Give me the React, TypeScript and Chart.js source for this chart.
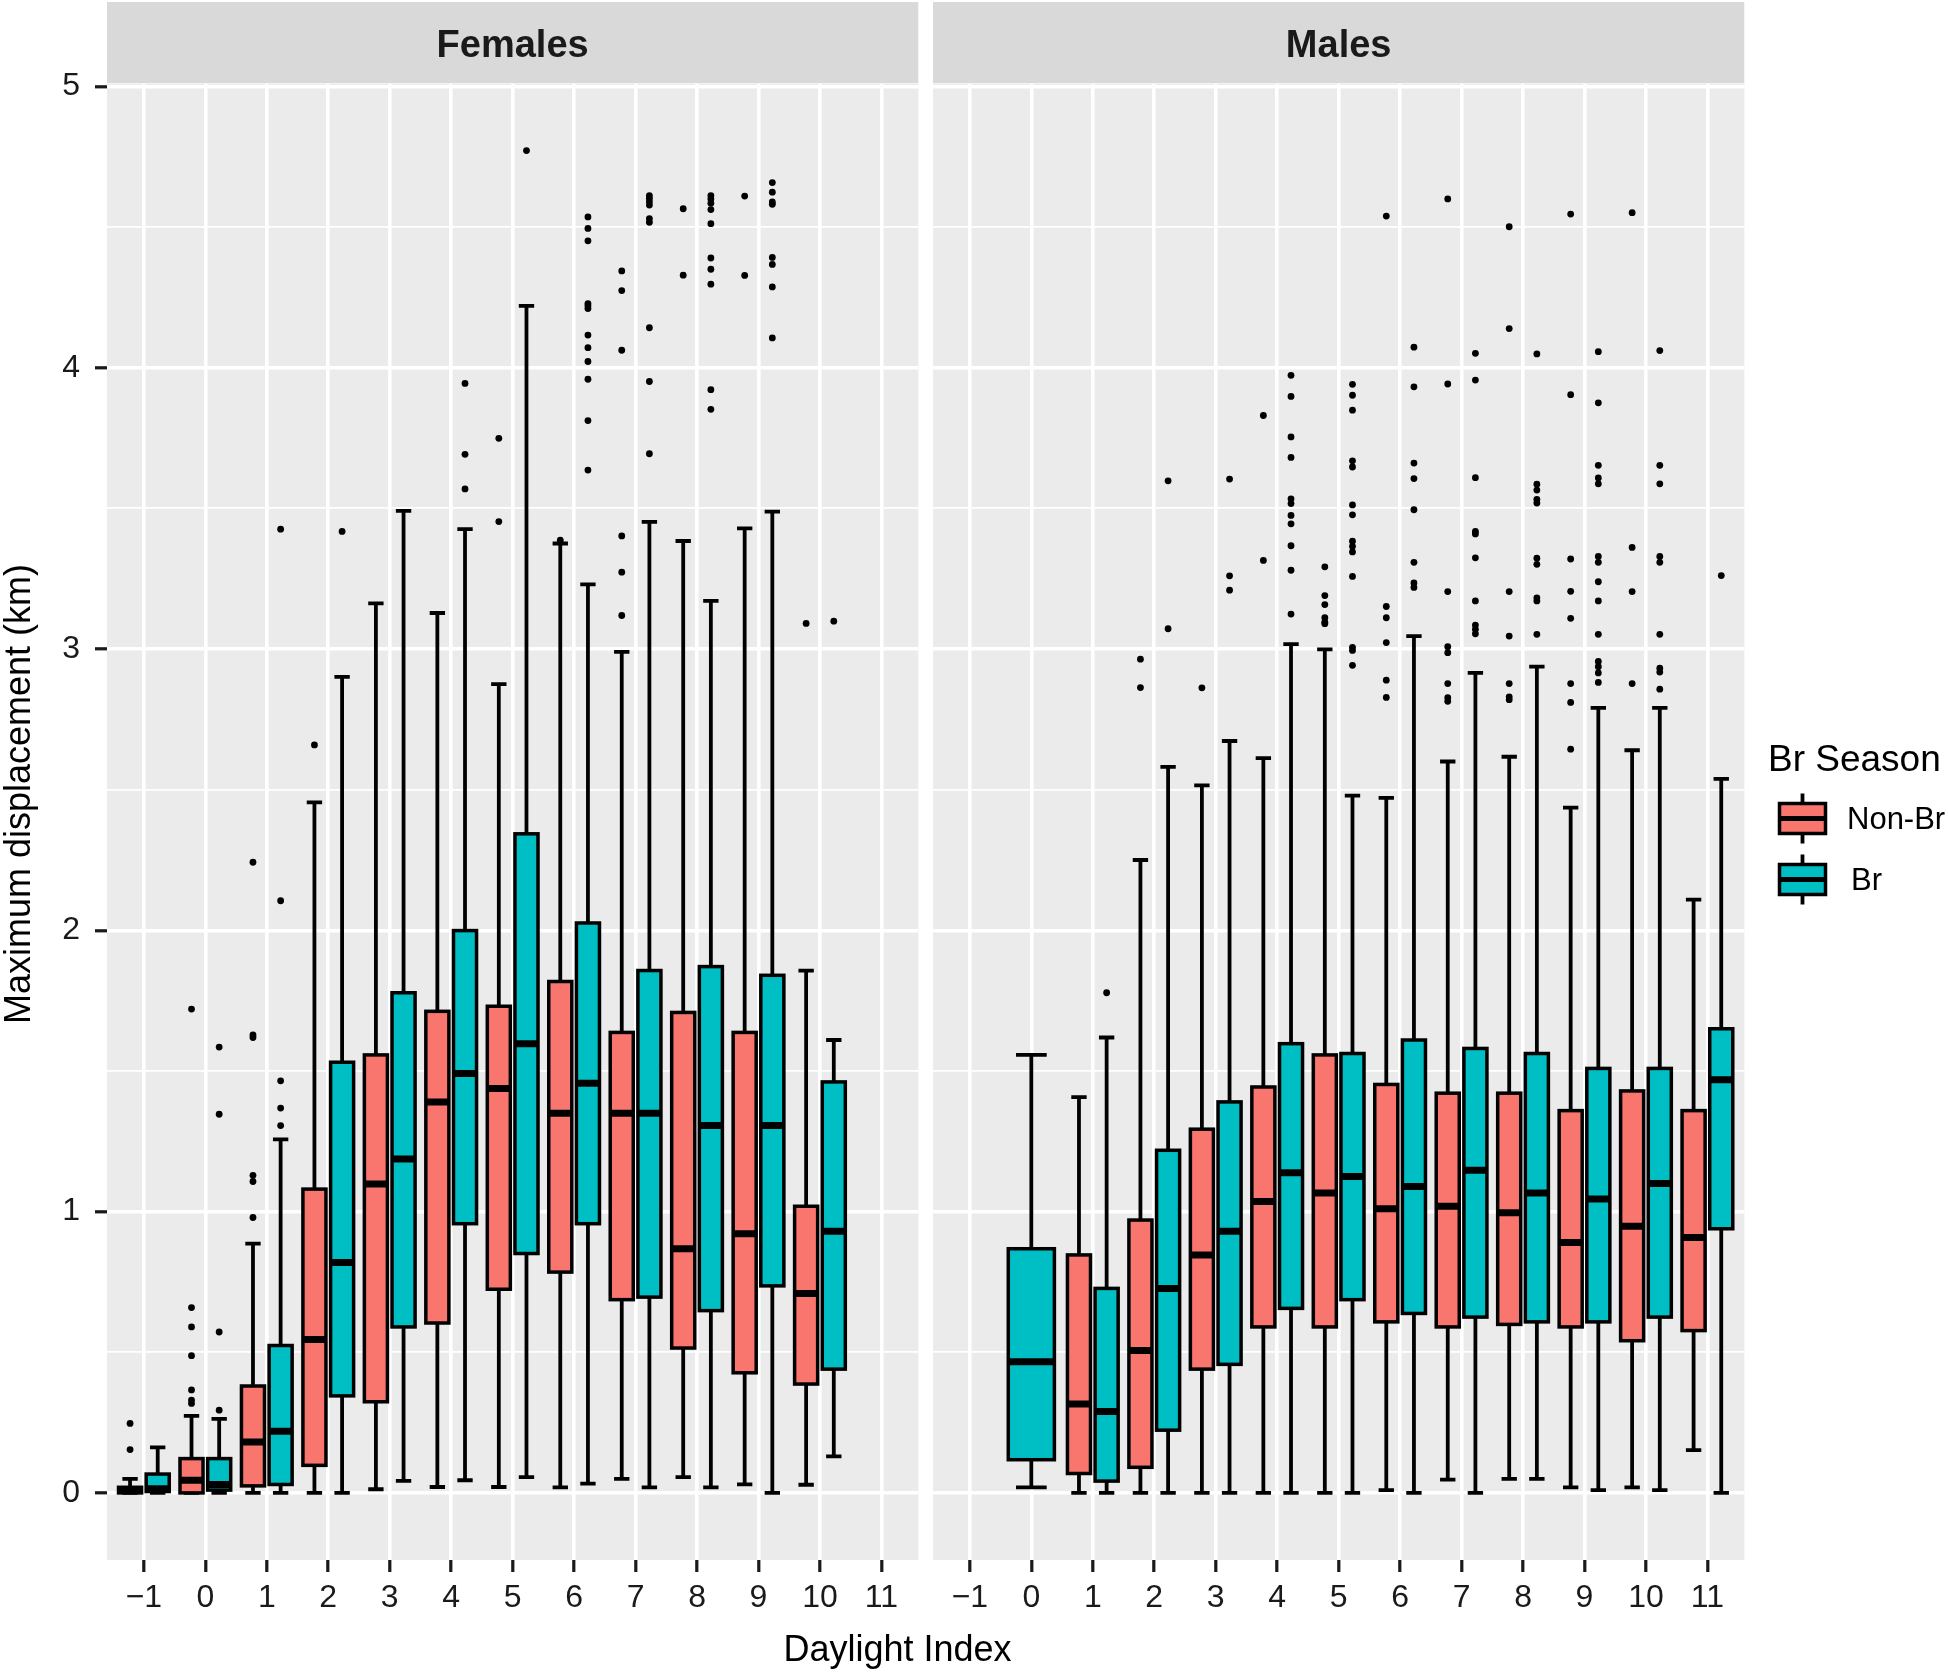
import React, { useEffect, useRef } from 'react';
import { Chart, registerables } from 'chart.js';

Chart.register(...registerables);

const FONT = "'Liberation Sans', Arial, Helvetica, sans-serif";

// ---------- labels / ticks ----------
const panelTitles = ['Females', 'Males'];
const seasonLabels = ['Non-Br', 'Br'];
const seasonColors = ['#F8766D', '#00BFC4'];
const legendTitle = 'Br Season';
const xAxisTitle = 'Daylight Index';
const yAxisTitle = 'Maximum displacement (km)';
const xTickValues = [-1, 0, 1, 2, 3, 4, 5, 6, 7, 8, 9, 10, 11];
const yTickValues = [0, 0.5, 1, 1.5, 2, 2.5, 3, 3.5, 4, 4.5, 5];

// ---------- Females, Non-Br ----------
const femNonBrCats = [-1, 0, 1, 2, 3, 4, 5, 6, 7, 8, 9, 10];
const femNonBrLo = [0, 0, 0, 0, 0.013, 0.021, 0.021, 0.02, 0.05, 0.056, 0.03, 0.029];
const femNonBrQ1 = [0, 0, 0.025, 0.098, 0.324, 0.604, 0.724, 0.785, 0.687, 0.515, 0.427, 0.387];
const femNonBrMed = [0.01, 0.045, 0.181, 0.545, 1.098, 1.39, 1.438, 1.35, 1.35, 0.868, 0.921, 0.709];
const femNonBrQ3 = [0.02, 0.122, 0.38, 1.08, 1.557, 1.712, 1.73, 1.818, 1.637, 1.708, 1.637, 1.019];
const femNonBrHi = [0.05, 0.274, 0.886, 2.455, 3.162, 3.128, 2.875, 3.375, 2.99, 3.384, 3.429, 1.857];
const femNonBrOut = [
  [0.154, 0.247],
  [0.318, 0.33, 0.366, 0.488, 0.59, 0.659, 1.72],
  [0.979, 1.107, 1.129, 1.619, 1.628, 2.242],
  [2.659],
  [],
  [],
  [3.453, 3.749],
  [3.387],
  [3.119, 3.273, 3.402, 4.062, 4.274, 4.344],
  [4.329, 4.565],
  [4.328, 4.61],
  [3.091],
];

// ---------- Females, Br ----------
const femBrCats = [-1, 0, 1, 2, 3, 4, 5, 6, 7, 8, 9, 10];
const femBrLo = [0, 0, 0, 0, 0.043, 0.045, 0.056, 0.033, 0.02, 0.02, 0, 0.13];
const femBrQ1 = [0.005, 0.01, 0.03, 0.345, 0.59, 0.957, 0.851, 0.957, 0.696, 0.648, 0.736, 0.44];
const femBrMed = [0.015, 0.03, 0.219, 0.819, 1.187, 1.491, 1.597, 1.456, 1.35, 1.306, 1.306, 0.93];
const femBrQ3 = [0.067, 0.122, 0.524, 1.531, 1.778, 1.999, 2.343, 2.026, 1.857, 1.871, 1.84, 1.461];
const femBrHi = [0.162, 0.263, 1.257, 2.901, 3.491, 3.426, 4.22, 3.23, 3.452, 3.171, 3.488, 1.61];
const femBrOut = [
  [],
  [0.294, 0.572, 1.346, 1.585],
  [1.306, 1.368, 1.465, 2.105, 3.426],
  [3.418],
  [],
  [3.569, 3.692, 3.944],
  [4.772],
  [3.636, 3.812, 3.959, 4.022, 4.071, 4.116, 4.21, 4.22, 4.228, 4.451, 4.495, 4.536],
  [3.694, 3.951, 4.142, 4.517, 4.53, 4.578, 4.59, 4.602, 4.612],
  [3.852, 3.922, 4.297, 4.35, 4.39, 4.512, 4.562, 4.585, 4.6, 4.612],
  [4.106, 4.287, 4.367, 4.392, 4.581, 4.589, 4.624, 4.658],
  [3.099],
];

// ---------- Males, Non-Br ----------
const maleNonBrCats = [1, 2, 3, 4, 5, 6, 7, 8, 9, 10, 11];
const maleNonBrLo = [0, 0, 0, 0, 0, 0.01, 0.047, 0.05, 0.02, 0.02, 0.152];
const maleNonBrQ1 = [0.069, 0.091, 0.44, 0.59, 0.59, 0.608, 0.59, 0.599, 0.59, 0.541, 0.577];
const maleNonBrMed = [0.316, 0.506, 0.846, 1.036, 1.066, 1.01, 1.019, 0.996, 0.89, 0.948, 0.908];
const maleNonBrQ3 = [0.846, 0.97, 1.293, 1.443, 1.557, 1.452, 1.421, 1.421, 1.359, 1.429, 1.359];
const maleNonBrHi = [1.407, 2.25, 2.515, 2.612, 2.999, 2.471, 2.6, 2.617, 2.436, 2.64, 2.109];
const maleNonBrOut = [
  [],
  [2.863, 2.964],
  [2.862],
  [3.315, 3.83],
  [3.09, 3.095, 3.111, 3.158, 3.19, 3.292],
  [2.828, 2.889, 3.023, 3.111, 3.151, 4.539],
  [2.814, 2.827, 2.877, 2.987, 3.008, 3.204, 3.942, 4.6],
  [2.82, 2.83, 2.877, 3.046, 3.204, 4.139, 4.501],
  [2.644, 2.81, 2.877, 3.109, 3.205, 3.32, 3.904, 4.546],
  [2.877, 3.204, 3.361, 4.551],
  [],
];

// ---------- Males, Br ----------
const maleBrCats = [0, 1, 2, 3, 4, 5, 6, 7, 8, 9, 10, 11];
const maleBrLo = [0.02, 0, 0, 0, 0, 0, 0, 0, 0.05, 0.01, 0.01, 0];
const maleBrQ1 = [0.118, 0.042, 0.223, 0.457, 0.656, 0.687, 0.638, 0.625, 0.608, 0.608, 0.625, 0.939];
const maleBrMed = [0.466, 0.289, 0.727, 0.93, 1.138, 1.125, 1.089, 1.147, 1.066, 1.045, 1.1, 1.469];
const maleBrQ3 = [0.868, 0.727, 1.218, 1.39, 1.597, 1.562, 1.61, 1.58, 1.562, 1.509, 1.509, 1.65];
const maleBrHi = [1.557, 1.619, 2.581, 2.673, 3.017, 2.479, 3.046, 2.915, 2.937, 2.791, 2.791, 2.538];
const maleBrOut = [
  [],
  [1.778],
  [3.072, 3.598],
  [3.209, 3.26, 3.604],
  [3.124, 3.28, 3.367, 3.445, 3.475, 3.517, 3.534, 3.681, 3.754, 3.898, 3.973],
  [2.942, 2.995, 3.006, 3.258, 3.345, 3.365, 3.383, 3.477, 3.512, 3.647, 3.669, 3.849, 3.902, 3.941],
  [3.219, 3.235, 3.308, 3.495, 3.606, 3.661, 3.932, 4.073],
  [3.054, 3.07, 3.085, 3.171, 3.324, 3.409, 3.418, 3.609, 3.956, 4.051],
  [3.052, 3.171, 3.182, 3.301, 3.323, 3.519, 3.532, 3.565, 3.586, 4.049],
  [2.881, 2.915, 2.937, 2.956, 3.052, 3.171, 3.239, 3.308, 3.329, 3.587, 3.608, 3.653, 3.875, 4.057],
  [2.857, 2.918, 2.932, 3.052, 3.308, 3.329, 3.587, 3.653, 4.061],
  [3.261],
];

type Group = {
  cats: number[]; lo: number[]; q1: number[]; med: number[]; q3: number[]; hi: number[]; out: number[][];
};

const femaleGroups: Group[] = [
  { cats: femNonBrCats, lo: femNonBrLo, q1: femNonBrQ1, med: femNonBrMed, q3: femNonBrQ3, hi: femNonBrHi, out: femNonBrOut },
  { cats: femBrCats, lo: femBrLo, q1: femBrQ1, med: femBrMed, q3: femBrQ3, hi: femBrHi, out: femBrOut },
];
const maleGroups: Group[] = [
  { cats: maleNonBrCats, lo: maleNonBrLo, q1: maleNonBrQ1, med: maleNonBrMed, q3: maleNonBrQ3, hi: maleNonBrHi, out: maleNonBrOut },
  { cats: maleBrCats, lo: maleBrLo, q1: maleBrQ1, med: maleBrMed, q3: maleBrQ3, hi: maleBrHi, out: maleBrOut },
];

// ---------- geometry constants (not data) ----------
const X_MIN = -1.6, X_MAX = 11.6;
const Y_MIN = -0.2385, Y_MAX = 5.0085;
const DODGE = 0.225, BOX_HALF = 0.1875, CAP_HALF = 0.125;
const WHISKER_LW = 3.8, BOX_LW = 3.5, MEDIAN_LW = 7;

function layoutFor(groups: Group[], gi: number, k: number) {
  const paired = groups[1 - gi].cats.includes(k);
  const center = paired ? k + (gi === 0 ? -DODGE : DODGE) : k;
  const f = paired ? 1 : 2;
  return { center, half: BOX_HALF * f, cap: CAP_HALF * f };
}

function isMajor(v: number) {
  return Math.abs(v - Math.round(v)) < 1e-6;
}

function panelPlugin(title: string, groups: Group[]) {
  return {
    id: 'panel_' + title,
    beforeDraw(chart: any) {
      const { ctx, chartArea: a } = chart;
      ctx.save();
      ctx.fillStyle = '#EBEBEB';
      ctx.fillRect(a.left, a.top, a.right - a.left, a.bottom - a.top);
      ctx.fillStyle = '#D9D9D9';
      ctx.fillRect(a.left, 2, a.right - a.left, a.top - 2.7);
      ctx.fillStyle = '#1A1A1A';
      ctx.font = `bold 38px ${FONT}`;
      ctx.textAlign = 'center';
      ctx.textBaseline = 'alphabetic';
      ctx.fillText(title, (a.left + a.right) / 2, 57);
      ctx.restore();
    },
    beforeDatasetsDraw(chart: any) {
      const { ctx, chartArea: a } = chart;
      const xs = chart.scales.x, ys = chart.scales.y;
      ctx.save();
      ctx.beginPath();
      ctx.rect(a.left, a.top, a.right - a.left, a.bottom - a.top);
      ctx.clip();
      ctx.strokeStyle = '#000';
      ctx.lineCap = 'butt';
      ctx.lineJoin = 'miter';
      // whiskers with caps
      ctx.lineWidth = WHISKER_LW;
      groups.forEach((g, gi) => g.cats.forEach((k, i) => {
        const L = layoutFor(groups, gi, k);
        const cx = xs.getPixelForValue(L.center);
        const c0 = xs.getPixelForValue(L.center - L.cap);
        const c1 = xs.getPixelForValue(L.center + L.cap);
        const ylo = ys.getPixelForValue(g.lo[i]);
        const yhi = ys.getPixelForValue(g.hi[i]);
        ctx.beginPath();
        ctx.moveTo(cx, ylo); ctx.lineTo(cx, yhi);
        ctx.moveTo(c0, ylo); ctx.lineTo(c1, ylo);
        ctx.moveTo(c0, yhi); ctx.lineTo(c1, yhi);
        ctx.stroke();
      }));
      // boxes + medians
      groups.forEach((g, gi) => g.cats.forEach((k, i) => {
        const L = layoutFor(groups, gi, k);
        const l = xs.getPixelForValue(L.center - L.half);
        const r = xs.getPixelForValue(L.center + L.half);
        const t = ys.getPixelForValue(g.q3[i]);
        const b = ys.getPixelForValue(g.q1[i]);
        ctx.fillStyle = seasonColors[gi];
        ctx.fillRect(l, t, r - l, b - t);
        ctx.lineWidth = BOX_LW;
        ctx.strokeRect(l, t, r - l, b - t);
        const m = ys.getPixelForValue(g.med[i]);
        ctx.lineWidth = MEDIAN_LW;
        ctx.beginPath();
        ctx.moveTo(l, m); ctx.lineTo(r, m);
        ctx.stroke();
      }));
      ctx.restore();
    },
  };
}

const legendPlugin = (offsetX: number) => ({
  id: 'boxLegend',
  afterDraw(chart: any) {
    const ctx = chart.ctx;
    ctx.save();
    ctx.fillStyle = '#000';
    ctx.textAlign = 'left';
    ctx.textBaseline = 'alphabetic';
    ctx.font = `37px ${FONT}`;
    ctx.fillText(legendTitle, 1768 - offsetX, 771);
    const keyTops = [803.5, 864.5];
    const labelX = [1847, 1851];
    const labelY = [829, 890];
    seasonLabels.forEach((lab, i) => {
      const l = 1779.5 - offsetX, r = 1825.5 - offsetX;
      const t = keyTops[i], b = t + 30;
      const cx = (l + r) / 2;
      ctx.strokeStyle = '#000';
      ctx.lineWidth = WHISKER_LW;
      ctx.beginPath();
      ctx.moveTo(cx, t - 10); ctx.lineTo(cx, t);
      ctx.moveTo(cx, b); ctx.lineTo(cx, b + 10);
      ctx.stroke();
      ctx.fillStyle = seasonColors[i];
      ctx.fillRect(l, t, r - l, b - t);
      ctx.lineWidth = BOX_LW;
      ctx.strokeRect(l, t, r - l, b - t);
      ctx.lineWidth = 5;
      ctx.beginPath();
      ctx.moveTo(l, (t + b) / 2); ctx.lineTo(r, (t + b) / 2);
      ctx.stroke();
      ctx.fillStyle = '#000';
      ctx.font = `31px ${FONT}`;
      ctx.fillText(lab, labelX[i] - offsetX, labelY[i]);
    });
    ctx.restore();
  },
});

function makeConfig(title: string, groups: Group[], isLeft: boolean, width: number, areaLeft: number, areaRight: number, extraPlugins: any[]) {
  const gridCommon = {
    color: '#FFFFFF',
    lineWidth: (c: any) => (c.tick && isMajor(c.tick.value) ? 3.6 : 1.8),
    tickLength: 12,
    tickWidth: 3.2,
    tickColor: (c: any) => (c.tick && isMajor(c.tick.value) ? '#1A1A1A' : 'rgba(0,0,0,0)'),
  };
  const datasets = groups.map((g, gi) => ({
    type: 'scatter',
    label: seasonLabels[gi],
    data: g.cats.flatMap((k, i) => g.out[i].map((v) => ({ x: layoutFor(groups, gi, k).center, y: v }))),
    pointRadius: 3.4,
    pointHoverRadius: 3.4,
    pointBackgroundColor: '#000',
    pointBorderWidth: 0,
    showLine: false,
  }));
  return {
    type: 'scatter',
    data: { datasets },
    options: {
      animation: false,
      responsive: false,
      devicePixelRatio: 1,
      events: [],
      layout: { padding: { top: 84, left: isLeft ? 0 : areaLeft, right: width - areaRight, bottom: 0 } },
      plugins: { legend: { display: false }, tooltip: { enabled: false } },
      scales: {
        x: {
          type: 'linear',
          position: 'bottom',
          min: X_MIN,
          max: X_MAX,
          afterBuildTicks: (s: any) => { s.ticks = xTickValues.map((v) => ({ value: v })); },
          afterFit: (s: any) => { s.height = 114; },
          border: { display: false },
          grid: gridCommon,
          ticks: {
            autoSkip: false,
            maxRotation: 0,
            padding: 7,
            color: '#1A1A1A',
            font: { family: FONT, size: 32 },
            callback: (v: any) => (v < 0 ? '\u2212' + String(Math.abs(v)) : String(v)),
          },
        },
        y: {
          type: 'linear',
          position: 'left',
          min: Y_MIN,
          max: Y_MAX,
          afterBuildTicks: (s: any) => { s.ticks = yTickValues.map((v) => ({ value: v })); },
          afterFit: (s: any) => { s.width = isLeft ? areaLeft : 0; },
          border: { display: false },
          grid: isLeft ? gridCommon : { ...gridCommon, drawTicks: false, tickLength: 0 },
          title: { display: false },
          ticks: {
            display: isLeft,
            padding: 15,
            color: '#1A1A1A',
            font: { family: FONT, size: 32 },
            callback: (v: any) => (isMajor(v) ? String(Math.round(v)) : ''),
          },
        },
      },
    },
    plugins: [panelPlugin(title, groups), ...extraPlugins],
  };
}

// y-axis title drawn with the left chart, centred where the reference puts it
const yTitlePlugin = {
  id: 'yTitle',
  afterDraw(chart: any) {
    const ctx = chart.ctx;
    ctx.save();
    ctx.translate(20, 794);
    ctx.rotate(-Math.PI / 2);
    ctx.fillStyle = '#000';
    ctx.font = `36px ${FONT}`;
    ctx.textAlign = 'center';
    ctx.textBaseline = 'middle';
    ctx.fillText(yAxisTitle, 0, 0);
    ctx.restore();
  },
};

const LEFT_W = 926;
const RIGHT_X = 926;
const RIGHT_W = 1948 - 926;

export default function App() {
  const leftRef = useRef<HTMLCanvasElement | null>(null);
  const rightRef = useRef<HTMLCanvasElement | null>(null);

  useEffect(() => {
    const c1 = new Chart(leftRef.current as HTMLCanvasElement, makeConfig(panelTitles[0], femaleGroups, true, LEFT_W, 107, 918.3, [yTitlePlugin]) as any);
    const c2 = new Chart(rightRef.current as HTMLCanvasElement, makeConfig(panelTitles[1], maleGroups, false, RIGHT_W, 933 - RIGHT_X, 1744.3 - RIGHT_X, [legendPlugin(RIGHT_X)]) as any);
    return () => { c1.destroy(); c2.destroy(); };
  }, []);

  return (
    <div style={{ position: 'absolute', left: 0, top: 0, width: 1948, height: 1674, background: '#FFFFFF', overflow: 'hidden' }}>
      <canvas ref={leftRef} width={LEFT_W} height={1674} style={{ position: 'absolute', left: 0, top: 0, width: LEFT_W, height: 1674 }} />
      <canvas ref={rightRef} width={RIGHT_W} height={1674} style={{ position: 'absolute', left: RIGHT_X, top: 0, width: RIGHT_W, height: 1674 }} />
      <div style={{ position: 'absolute', left: 0, width: 1795, top: 1631, textAlign: 'center', fontFamily: FONT, fontSize: 36, lineHeight: '36px', color: '#000', whiteSpace: 'nowrap' }}>
        {xAxisTitle}
      </div>
    </div>
  );
}
